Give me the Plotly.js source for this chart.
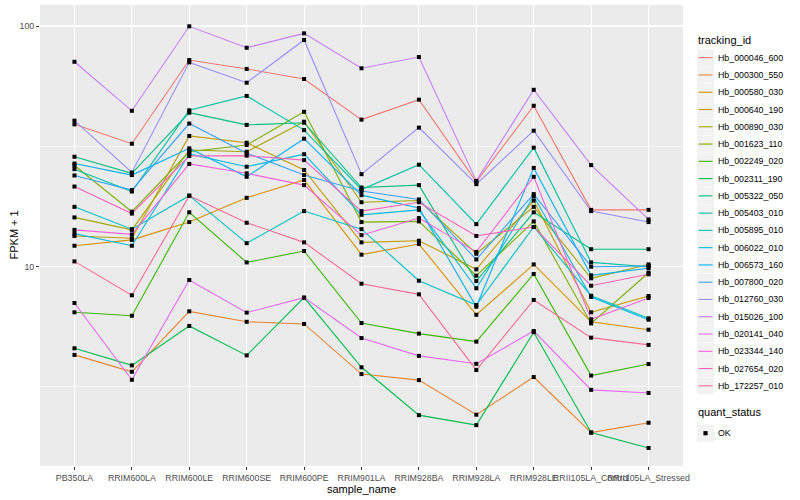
<!DOCTYPE html>
<html><head><meta charset="utf-8">
<script src="https://cdn.plot.ly/plotly-3.0.1.min.js"></script>
<style>html,body{margin:0;padding:0;background:#fff}#chart{width:800px;height:500px}</style>
</head><body><div id="chart"></div>
<script>
const sampleNames = ["PB350LA","RRIM600LA","RRIM600LE","RRIM600SE","RRIM600PE","RRIM901LA","RRIM928BA","RRIM928LA","RRIM928LE","RRII105LA_Control","RRII105LA_Stressed"];
const trackingIds = ["Hb_000046_600","Hb_000300_550","Hb_000580_030","Hb_000640_190","Hb_000890_030","Hb_001623_110","Hb_002249_020","Hb_002311_190","Hb_005322_050","Hb_005403_010","Hb_005895_010","Hb_006022_010","Hb_006573_160","Hb_007800_020","Hb_012760_030","Hb_015026_100","Hb_020141_040","Hb_023344_140","Hb_027654_020","Hb_172257_010"];
const yTickVals = [10, 100];
const yTickText = ["10", "100"];
const quantStatus = ["OK"];

const Hb_000046_600 = [39.0, 32.4, 72.2, 66.3, 60.2, 40.8, 49.4, 22.5, 46.6, 17.2, 17.2];
const Hb_000300_550 = [4.29, 3.65, 6.51, 5.89, 5.77, 3.57, 3.37, 2.42, 3.47, 2.04, 2.24];
const Hb_000580_030 = [12.2, 12.9, 15.3, 19.3, 22.9, 11.2, 12.4, 6.30, 10.2, 5.89, 5.46];
const Hb_000640_190 = [13.4, 13.1, 34.9, 32.7, 25.2, 12.6, 12.8, 9.73, 18.8, 6.45, 7.54];
const Hb_000890_030 = [16.0, 14.2, 30.5, 30.0, 40.0, 18.5, 18.8, 11.3, 17.7, 8.93, 10.2];
const Hb_001623_110 = [26.3, 16.9, 30.0, 32.0, 44.0, 15.3, 15.4, 9.16, 15.4, 5.80, 9.42];
const Hb_002249_020 = [6.45, 6.24, 16.8, 10.4, 11.6, 5.82, 5.26, 4.87, 9.31, 3.52, 3.93];
const Hb_002311_190 = [4.57, 3.88, 5.66, 4.27, 7.42, 3.81, 2.41, 2.19, 5.33, 2.04, 1.76];
const Hb_005322_050 = [28.6, 24.4, 43.6, 38.8, 39.6, 21.3, 21.8, 8.70, 16.8, 11.8, 11.8];
const Hb_005403_010 = [25.4, 20.5, 44.6, 51.2, 36.9, 20.9, 26.5, 15.0, 31.2, 10.4, 9.98];
const Hb_005895_010 = [17.7, 14.3, 19.7, 12.5, 17.0, 14.3, 8.73, 6.92, 14.6, 7.56, 6.09];
const Hb_006022_010 = [13.7, 12.2, 29.4, 26.0, 29.3, 16.4, 17.2, 8.12, 19.6, 7.47, 6.01];
const Hb_006573_160 = [26.8, 24.0, 31.0, 23.6, 34.0, 19.8, 17.5, 6.80, 25.7, 9.19, 9.83];
const Hb_007800_020 = [23.9, 20.8, 39.3, 29.6, 24.0, 20.6, 19.0, 10.7, 20.0, 9.98, 10.05];
const Hb_012760_030 = [40.4, 24.6, 70.6, 58.1, 87.5, 24.2, 37.8, 22.0, 36.7, 17.0, 15.3];
const Hb_015026_100 = [71.0, 44.4, 99.7, 81.2, 93.2, 66.7, 74.3, 22.7, 54.3, 26.4, 15.7];
const Hb_020141_040 = [7.05, 3.38, 8.79, 6.43, 7.42, 5.04, 4.25, 3.94, 5.39, 3.07, 2.98];
const Hb_023344_140 = [14.2, 13.6, 26.7, 24.4, 21.8, 13.5, 15.9, 11.5, 23.6, 6.03, 7.40];
const Hb_027654_020 = [21.5, 16.6, 28.8, 28.9, 27.7, 17.0, 18.5, 13.4, 14.6, 8.32, 9.28];
const Hb_172257_010 = [10.5, 7.59, 19.7, 15.2, 12.6, 8.48, 7.66, 3.71, 7.26, 5.06, 4.72];

const seriesValues = [Hb_000046_600, Hb_000300_550, Hb_000580_030, Hb_000640_190, Hb_000890_030,
  Hb_001623_110, Hb_002249_020, Hb_002311_190, Hb_005322_050, Hb_005403_010, Hb_005895_010,
  Hb_006022_010, Hb_006573_160, Hb_007800_020, Hb_012760_030, Hb_015026_100, Hb_020141_040,
  Hb_023344_140, Hb_027654_020, Hb_172257_010];

const palette = ["#F8766D","#EA8331","#D89000","#C09B00","#A3A500","#7CAE00","#39B600","#00BB4E","#00BF7D","#00C1A3","#00BFC4","#00BAE0","#00B0F6","#35A2FF","#9590FF","#C77CFF","#E76BF3","#FA62DB","#FF62BC","#FF6C91"];

const W = 800, H = 500;
const M = {l: 40, r: 117, t: 5, b: 34};
const PW = W - M.l - M.r, PH = H - M.t - M.b;
const px = x => (x - M.l) / PW;
const py = y => 1 - (y - M.t) / PH;
const FONT = "Liberation Sans, Arial, Helvetica, sans-serif";

const traces = [];
trackingIds.forEach((id, i) => {
  traces.push({
    type: "scatter", mode: "lines", name: id,
    x: sampleNames, y: seriesValues[i],
    line: {color: palette[i], width: 1.1},
    showlegend: false, hoverinfo: "skip"
  });
});
const allX = [], allY = [];
seriesValues.forEach(vals => vals.forEach((v, j) => { allX.push(sampleNames[j]); allY.push(v); }));
traces.push({
  type: "scatter", mode: "markers", name: quantStatus[0],
  x: allX, y: allY,
  marker: {symbol: "square", size: 4, color: "#000000"},
  showlegend: false, hoverinfo: "skip"
});

const shapes = [], annotations = [];
annotations.push({xref: "paper", yref: "paper", x: px(695.5), y: py(40.5), text: "tracking_id",
  showarrow: false, xanchor: "left", yanchor: "middle", font: {family: FONT, size: 11, color: "#000"}});
const step = 17.27, y0 = 57.7;
trackingIds.forEach((id, i) => {
  const cy = y0 + i * step;
  shapes.push({type: "rect", xref: "paper", yref: "paper", x0: px(697), x1: px(714), y0: py(cy - 8.4), y1: py(cy + 8.4),
    fillcolor: "#F2F2F2", line: {width: 0}, layer: "below"});
  shapes.push({type: "line", xref: "paper", yref: "paper", x0: px(698.5), x1: px(712.5), y0: py(cy), y1: py(cy),
    line: {color: palette[i], width: 1.1}});
  annotations.push({xref: "paper", yref: "paper", x: px(716), y: py(cy), text: id, showarrow: false,
    xanchor: "left", yanchor: "middle", font: {family: FONT, size: 8.8, color: "#000"}});
});
annotations.push({xref: "paper", yref: "paper", x: px(695.5), y: py(411.7), text: "quant_status",
  showarrow: false, xanchor: "left", yanchor: "middle", font: {family: FONT, size: 11, color: "#000"}});
const qy = 433.2;
shapes.push({type: "rect", xref: "paper", yref: "paper", x0: px(697), x1: px(714), y0: py(qy - 8.4), y1: py(qy + 8.4),
  fillcolor: "#F2F2F2", line: {width: 0}, layer: "below"});
shapes.push({type: "rect", xref: "paper", yref: "paper", x0: px(703.4), x1: px(707.6), y0: py(qy - 2.1), y1: py(qy + 2.1),
  fillcolor: "#000", line: {width: 0}});
annotations.push({xref: "paper", yref: "paper", x: px(716), y: py(qy), text: quantStatus[0], showarrow: false,
  xanchor: "left", yanchor: "middle", font: {family: FONT, size: 8.8, color: "#000"}});
annotations.push({xref: "paper", yref: "paper", x: px(13), y: py(235.5), text: "FPKM + 1", textangle: -90,
  showarrow: false, xanchor: "center", yanchor: "middle", font: {family: FONT, size: 11, color: "#000"}});

const layout = {
  width: W, height: H,
  margin: {l: M.l, r: M.r, t: M.t, b: M.b, pad: 0},
  paper_bgcolor: "#FFFFFF", plot_bgcolor: "#EBEBEB",
  font: {family: FONT, size: 8.8, color: "#4D4D4D"},
  showlegend: false,
  xaxis: {
    type: "category", categoryorder: "array", categoryarray: sampleNames,
    range: [-0.6, sampleNames.length - 0.4],
    showgrid: true, gridcolor: "#FFFFFF", gridwidth: 1.1,
    zeroline: false, showline: false,
    ticks: "outside", ticklen: 3, tickwidth: 1, tickcolor: "#333333",
    tickangle: 0, tickfont: {family: FONT, size: 8.8, color: "#4D4D4D"},
    title: {text: "sample_name", font: {family: FONT, size: 11, color: "#000"}, standoff: 3},
    fixedrange: true
  },
  yaxis: {
    type: "log", range: [0.1705, 2.0873],
    tickmode: "array", tickvals: yTickVals, ticktext: yTickText,
    showgrid: true, gridcolor: "#FFFFFF", gridwidth: 1.1,
    minor: {tickmode: "array", tickvals: [Math.sqrt(10), Math.sqrt(1000)], showgrid: true, gridcolor: "#FFFFFF", gridwidth: 0.55, ticks: ""},
    zeroline: false, showline: false,
    ticks: "outside", ticklen: 3, tickwidth: 1, tickcolor: "#333333",
    tickfont: {family: FONT, size: 8.8, color: "#4D4D4D"},
    fixedrange: true
  },
  shapes: shapes,
  annotations: annotations
};

Plotly.newPlot("chart", traces, layout, {staticPlot: true, displayModeBar: false});
</script>
</body></html>
